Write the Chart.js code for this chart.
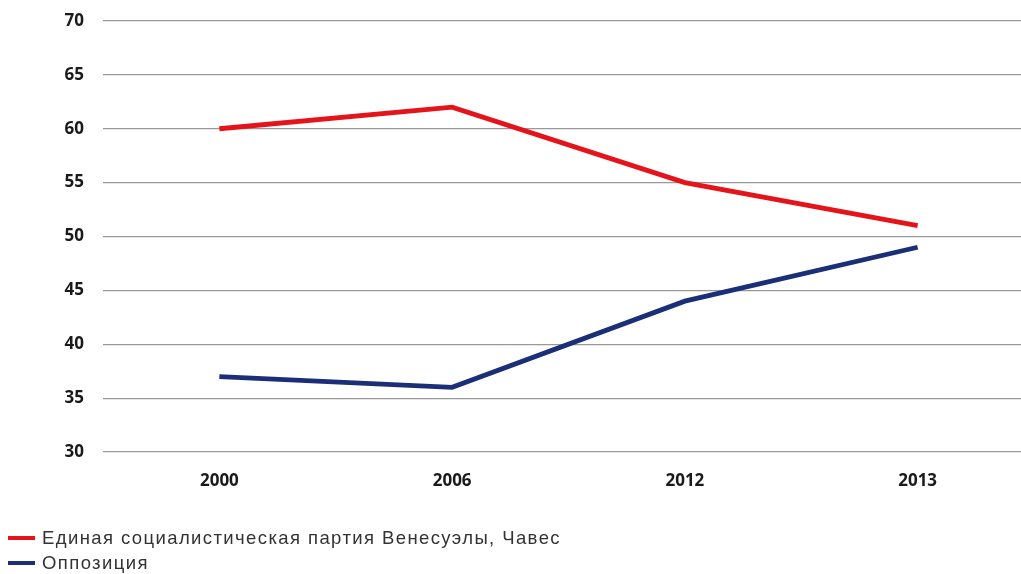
<!DOCTYPE html>
<html>
<head>
<meta charset="utf-8">
<script src="https://cdn.jsdelivr.net/npm/chart.js@4/dist/chart.umd.min.js"></script>
<style>
  html, body { margin: 0; padding: 0; background: #fff; overflow: hidden; }
  #wrap { position: relative; width: 1034px; height: 574px; }
  #legend { position: absolute; left: 8px; top: 525px; font-family: "Liberation Sans", Arial, sans-serif;
            font-size: 18.5px; letter-spacing: 1.4px; color: #333; }
  #legend .item { height: 25px; line-height: 25px; display: flex; align-items: center; }
  #legend .sw { width: 27px; height: 4px; margin-right: 7px; }
</style>
</head>
<body>
<div id="wrap">
  <canvas id="chart" width="1034" height="574"></canvas>
  <div id="legend"></div>
</div>
<script>
// Years on the x axis
const years = ['2000', '2006', '2012', '2013'];
// Vote share, %
const psuvVotes = [60, 62, 55, 51];
const oppositionVotes = [37, 36, 44, 49];
const yMin = 30, yMax = 70, yStep = 5;

const seriesNames = ['Единая социалистическая партия Венесуэлы, Чавес', 'Оппозиция'];
const seriesColors = ['#e5141b', '#1b2f78'];

const tickFont = { family: 'Open Sans', weight: 'bold', size: 17 };

const chart = new Chart(document.getElementById('chart'), {
  type: 'line',
  data: {
    labels: years,
    datasets: [
      { label: seriesNames[0], data: psuvVotes, borderColor: seriesColors[0], borderWidth: 4.8,
        pointRadius: 0, tension: 0 },
      { label: seriesNames[1], data: oppositionVotes, borderColor: seriesColors[1], borderWidth: 4.8,
        pointRadius: 0, tension: 0 },
    ],
  },
  options: {
    responsive: false,
    animation: false,
    layout: { padding: { top: 21, right: 0, bottom: 0, left: 0 } },
    scales: {
      x: {
        offset: true,
        grid: { display: false, drawTicks: false },
        border: { display: false },
        ticks: { color: '#1a1a1a', padding: 19, font: tickFont },
        afterFit: s => { s.height = 122; },
      },
      y: {
        min: yMin, max: yMax,
        grid: { color: '#999', lineWidth: 1.2, drawTicks: false },
        border: { display: false },
        ticks: { stepSize: yStep, color: '#1a1a1a', padding: 19, font: tickFont },
        // fixed width, and no extra room above the top label
        afterFit: s => { s.width = 103; s.paddingTop = 0; s.paddingBottom = 0; },
      },
    },
    plugins: {
      legend: { display: false },
      tooltip: { enabled: false },
    },
  },
});

// HTML legend, stacked vertically at bottom-left
const legendEl = document.getElementById('legend');
chart.data.datasets.forEach(ds => {
  const item = document.createElement('div');
  item.className = 'item';
  item.innerHTML = `<span class="sw" style="background:${ds.borderColor}"></span><span>${ds.label}</span>`;
  legendEl.appendChild(item);
});
</script>
</body>
</html>
